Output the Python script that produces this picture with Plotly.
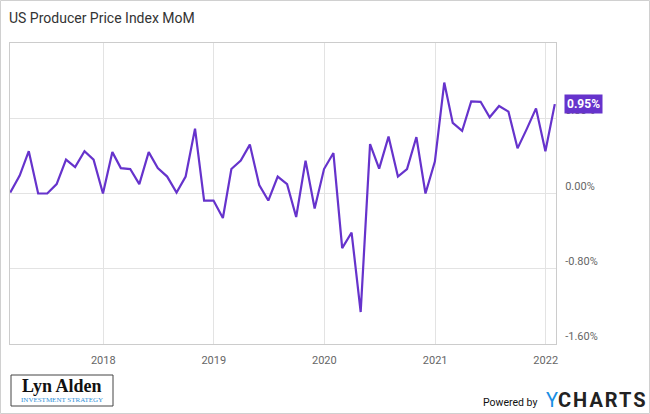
import pandas as pd
import plotly.graph_objects as go

# ---- data (monthly PPI MoM %, Feb 2017 .. Jan 2022, dated month end) ----
start_month = "2017-02-28"
ppi_mom = [
    0.01, 0.19, 0.45, 0.00, 0.00, 0.10, 0.36, 0.28, 0.45, 0.36, 0.00,   # 2017 Feb-Dec
    0.44, 0.27, 0.26, 0.10, 0.44, 0.27, 0.18, 0.01, 0.18, 0.69, -0.075, -0.075,  # 2018
    -0.26, 0.26, 0.35, 0.52, 0.09, -0.075, 0.18, 0.10, -0.25, 0.35, -0.16, 0.26,  # 2019
    0.43, -0.58, -0.415, -1.26, 0.525, 0.265, 0.605, 0.18, 0.26, 0.60, 0.00, 0.34,  # 2020
    1.18, 0.75, 0.665, 0.98, 0.975, 0.81, 0.93, 0.87, 0.48, 0.69, 0.905, 0.45,  # 2021
    0.95,  # 2022 Jan
]
dates = pd.date_range(start=start_month, periods=len(ppi_mom), freq="ME")

y_ticks = [-1.6, -0.8, 0.0, 0.8]
y_ticktext = [f"{v:.2f}%" for v in y_ticks]
title_text = "US Producer Price Index MoM"

LINE = "#6633cc"
GRID = "#e3e3e3"
BORDER = "#cccccc"
W, H = 650, 414
ML, MR, MT, MB = 10, 94, 43, 70
PW, PH = W - ML - MR, H - MT - MB


def px(x):
    return (x - ML) / PW


def py(y):
    return (H - MB - y) / PH


fig = go.Figure()
fig.add_trace(go.Scatter(
    x=dates, y=ppi_mom, mode="lines",
    line=dict(color=LINE, width=2.2), hoverinfo="skip", showlegend=False,
))

last_x, last_y = dates[-1], ppi_mom[-1]

shapes = [
    # flag arrow
    dict(type="path", xref="x", yref="y", xsizemode="pixel", ysizemode="pixel",
         xanchor=last_x, yanchor=last_y,
         path="M 1,0 L 9,9 L 9,-9 Z", fillcolor=LINE, line=dict(width=0)),
    # outer container border
    dict(type="rect", xref="paper", yref="paper",
         x0=px(0.5), x1=px(W - 0.5), y0=py(0.5), y1=py(H - 0.5),
         line=dict(color="#d0d0d0", width=1), fillcolor="rgba(0,0,0,0)", layer="below"),
    # logo box
    dict(type="rect", xref="paper", yref="paper",
         x0=px(11), x1=px(113), y0=py(375), y1=py(406),
         line=dict(color="#444444", width=1), fillcolor="white"),
]

annotations = [
    dict(x=last_x, y=last_y, xref="x", yref="y", xanchor="left", yanchor="middle",
         xshift=9, text=f"<b>{last_y:.2f}%</b>", showarrow=False,
         bgcolor=LINE, borderpad=2, font=dict(color="white", size=12, family="Roboto")),
    dict(x=px(62), y=py(386), xref="paper", yref="paper", xanchor="center", yanchor="middle",
         text="<b>Lyn Alden</b>", showarrow=False,
         font=dict(family="Liberation Serif", size=18, color="#111111")),
    dict(x=px(62), y=py(400), xref="paper", yref="paper", xanchor="center", yanchor="middle",
         text="INVESTMENT STRATEGY", showarrow=False,
         font=dict(family="Liberation Serif", size=7, color="#2f8fd8")),
    dict(x=px(539), y=py(402), xref="paper", yref="paper", xanchor="right", yanchor="middle",
         text="Powered by", showarrow=False,
         font=dict(family="Roboto", size=10.5, color="#111111")),
    dict(x=px(544), y=py(400), xref="paper", yref="paper", xanchor="left", yanchor="middle",
         text="<span style='color:#1a8fe3'>Y</span><b style='letter-spacing:2px'>CHARTS</b>",
         showarrow=False,
         font=dict(family="Roboto", size=20, color="#222222")),
]

fig.update_layout(
    width=W, height=H,
    margin=dict(l=ML, r=MR, t=MT, b=MB, pad=0),
    paper_bgcolor="white", plot_bgcolor="white",
    font=dict(family="Roboto", color="#666666", size=11),
    title=dict(text=title_text, x=9 / W, xanchor="left", xref="container",
               y=1 - 18 / H, yanchor="middle", yref="container",
               font=dict(family="Roboto", size=14, color="#333333")),
    shapes=shapes, annotations=annotations,
    xaxis=dict(
        range=[pd.Timestamp("2017-02-27"), pd.Timestamp("2022-02-04")],
        tick0="2018-01-01", dtick="M12", tickformat="%Y",
        showgrid=True, gridcolor=GRID, gridwidth=1,
        showline=True, linecolor=BORDER, linewidth=1, mirror=True,
        ticks="", zeroline=False, ticklabelstandoff=6,
        tickfont=dict(size=11, color="#666666"),
    ),
    yaxis=dict(
        side="right", range=[-1.6, 1.6],
        tickvals=y_ticks, ticktext=y_ticktext,
        ticklabelposition="outside top",
        showgrid=True, gridcolor=GRID, gridwidth=1,
        showline=True, linecolor=BORDER, linewidth=1, mirror=True,
        ticks="", zeroline=False, ticklabelstandoff=6,
        tickfont=dict(size=11, color="#666666"),
    ),
)

fig.write_html(
    "out.html",
    config={"displayModeBar": False},
    post_script="document.body.style.margin='0';document.body.style.overflow='hidden';",
)
